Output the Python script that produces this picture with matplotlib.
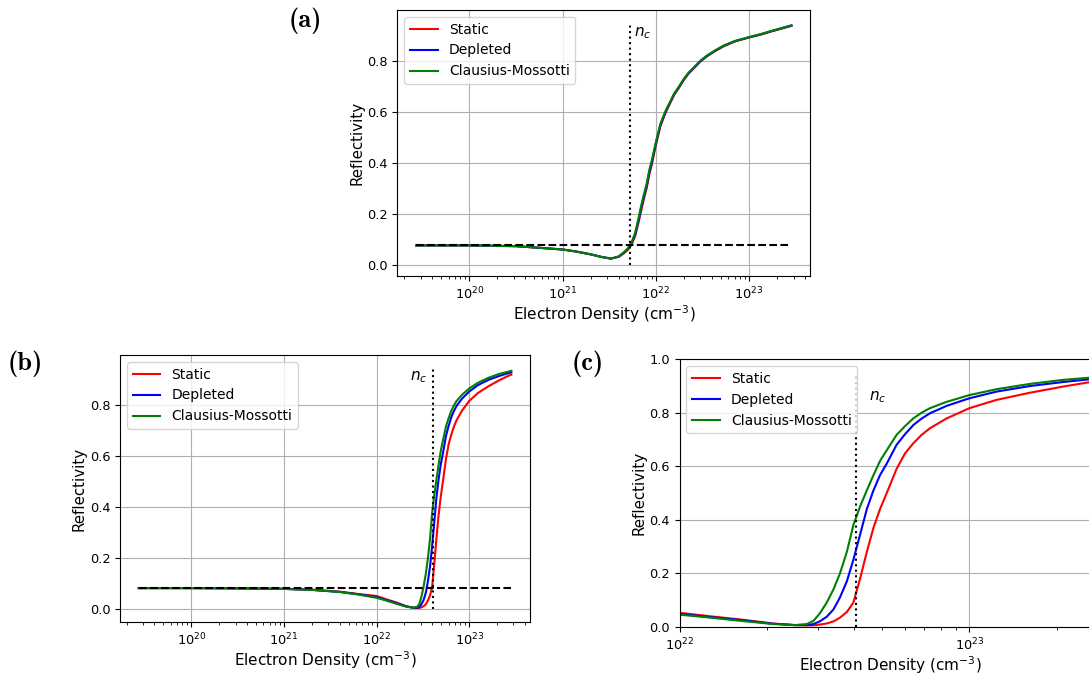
import os

import matplotlib
matplotlib.use("Agg")
import matplotlib.pyplot as plt
from matplotlib.font_manager import FontProperties

# --- panel (a): thin film, critical density n_c ~ 5.3e21 cm^-3 ---
density_a = [2.7e19, 5e19, 1e20, 3.2e20, 1e21, 1.4e21, 2e21, 2.6e21, 3.3e21, 4e21,
             4.5e21, 5e21, 5.5e21, 6e21, 6.5e21, 7e21, 7.5e21, 8e21, 8.5e21, 9e21,
             1e22, 1.12e22, 1.26e22, 1.33e22, 1.45e22, 1.57e22, 1.78e22, 2e22,
             2.24e22, 2.57e22, 3.0e22, 3.55e22, 4.37e22, 5.37e22, 7.1e22,
             1e23, 1.35e23, 1.7e23, 2.85e23]
static_a = [0.076, 0.076, 0.076, 0.073, 0.060, 0.052, 0.041, 0.031, 0.025, 0.031,
            0.044, 0.058, 0.080, 0.112, 0.163, 0.215, 0.262, 0.302, 0.352, 0.388,
            0.468, 0.543, 0.592, 0.611, 0.639, 0.666, 0.695, 0.725,
            0.749, 0.771, 0.797, 0.818, 0.839, 0.857, 0.876,
            0.891, 0.903, 0.914, 0.937]
depleted_a = [0.076, 0.076, 0.076, 0.073, 0.060, 0.052, 0.041, 0.031, 0.024, 0.032,
              0.046, 0.061, 0.084, 0.118, 0.171, 0.225, 0.271, 0.311, 0.361, 0.396,
              0.474, 0.548, 0.596, 0.615, 0.642, 0.668, 0.698, 0.727,
              0.751, 0.773, 0.798, 0.819, 0.840, 0.859, 0.877,
              0.892, 0.904, 0.915, 0.938]
cm_a = [0.076, 0.076, 0.076, 0.073, 0.060, 0.052, 0.041, 0.031, 0.024, 0.033,
        0.048, 0.064, 0.088, 0.125, 0.180, 0.235, 0.280, 0.320, 0.370, 0.405,
        0.480, 0.553, 0.600, 0.618, 0.645, 0.671, 0.700, 0.729,
        0.753, 0.775, 0.800, 0.821, 0.842, 0.860, 0.878,
        0.893, 0.905, 0.916, 0.939]
r0_a = 0.076
nc_a = 5.3e21

# --- panels (b) and (c): same model, n_c ~ 4.08e22 cm^-3 ---
density_b = [2.7e19, 5e19, 1e20, 3.2e20, 1e21, 2e21, 4e21, 6.3e21, 1e22, 1.25e22,
             1.62e22, 2.1e22, 2.5e22, 2.75e22, 2.9e22, 3.05e22, 3.22e22, 3.4e22,
             3.58e22, 3.78e22, 3.98e22, 4.2e22, 4.43e22, 4.67e22, 4.92e22, 5.19e22,
             5.61e22, 6.0e22, 6.41e22, 6.84e22, 7.31e22, 8.36e22, 1e23, 1.24e23,
             1.62e23, 2.11e23, 2.59e23, 2.85e23]
static_b = [0.083, 0.083, 0.083, 0.082, 0.080, 0.077, 0.069, 0.060, 0.052, 0.040,
            0.027, 0.012, 0.006, 0.005, 0.005, 0.008, 0.012, 0.020,
            0.034, 0.055, 0.090, 0.180, 0.280, 0.370, 0.440, 0.500,
            0.590, 0.648, 0.686, 0.717, 0.742, 0.779, 0.817, 0.848,
            0.875, 0.898, 0.914, 0.920]
depleted_b = [0.083, 0.083, 0.083, 0.082, 0.080, 0.076, 0.068, 0.059, 0.048, 0.037,
              0.025, 0.011, 0.006, 0.006, 0.010, 0.020, 0.037, 0.065,
              0.110, 0.170, 0.250, 0.345, 0.440, 0.510, 0.567, 0.610,
              0.680, 0.720, 0.754, 0.778, 0.798, 0.826, 0.854, 0.879,
              0.900, 0.915, 0.925, 0.929]
cm_b = [0.083, 0.083, 0.083, 0.082, 0.080, 0.076, 0.068, 0.058, 0.045, 0.035,
        0.022, 0.010, 0.006, 0.010, 0.022, 0.050, 0.090, 0.140,
        0.200, 0.280, 0.380, 0.450, 0.510, 0.567, 0.620, 0.660,
        0.717, 0.750, 0.779, 0.800, 0.817, 0.841, 0.866, 0.888,
        0.908, 0.923, 0.931, 0.935]
r0_b = 0.083
nc_b = 4.08e22

labels = ["Static", "Depleted", "Clausius-Mossotti"]
colors = ["red", "blue", "green"]
vline_top = 0.943

# bold Computer Modern for the panel tags (ships with matplotlib)
tag_font = FontProperties(fname=os.path.join(matplotlib.get_data_path(), "fonts", "ttf", "cmb10.ttf"),
                          size=19)


def draw_panel(ax, density, series, r0, nc, show_r0=True):
    for values, label, color in zip(series, labels, colors):
        ax.plot(density, values, color=color, linewidth=1.5, label=label)
    if show_r0:
        ax.plot([density[0], density[-1]], [r0, r0], "k--", linewidth=1.5)
    ax.plot([nc, nc], [0, vline_top], "k:", linewidth=1.5)
    ax.set_xscale("log")
    ax.grid(True)
    ax.set_xlabel(r"Electron Density (cm$^{-3}$)", fontsize=11, labelpad=1)
    ax.set_ylabel("Reflectivity", fontsize=10.8, labelpad=2)
    ax.tick_params(labelsize=9.3)
    ax.legend(loc="upper left", fontsize=10)


fig = plt.figure(figsize=(10.89, 6.77), dpi=100)

ax_a = fig.add_axes([0.3650, 0.5923, 0.3790, 0.3929])
draw_panel(ax_a, density_a, [static_a, depleted_a, cm_a], r0_a, nc_a)
ax_a.set_xlim(10 ** 19.23, 10 ** 23.656)
ax_a.set_ylim(-0.044, 0.999)
ax_a.set_yticks([0.0, 0.2, 0.4, 0.6, 0.8])
ax_a.text(5.85e21, 0.91, r"$n_c$", fontsize=11, ha="left", va="center")

ax_b = fig.add_axes([0.1102, 0.0812, 0.3765, 0.3944])
draw_panel(ax_b, density_b, [static_b, depleted_b, cm_b], r0_b, nc_b)
ax_b.set_xlim(10 ** 19.23, 10 ** 23.656)
ax_b.set_ylim(-0.050, 0.997)
ax_b.set_yticks([0.0, 0.2, 0.4, 0.6, 0.8])
ax_b.text(3.5e22, 0.912, r"$n_c$", fontsize=11, ha="right", va="center")

# zoom on the transition region, right edge runs off the figure
ax_c = fig.add_axes([0.6240, 0.0743, 0.3871, 0.3950])
draw_panel(ax_c, density_b, [static_b, depleted_b, cm_b], r0_b, nc_b, show_r0=False)
ax_c.set_xlim(1e22, 2.85e23)
ax_c.set_ylim(0, 1.0)
ax_c.text(4.52e22, 0.857, r"$n_c$", fontsize=11, ha="left", va="center")

for x, y, tag in [(0.280, 0.970, "(a)"), (0.0233, 0.4623, "(b)"), (0.5398, 0.4623, "(c)")]:
    fig.text(x, y, tag, fontproperties=tag_font, ha="center", va="center")

fig.savefig("out.png", dpi=100)
